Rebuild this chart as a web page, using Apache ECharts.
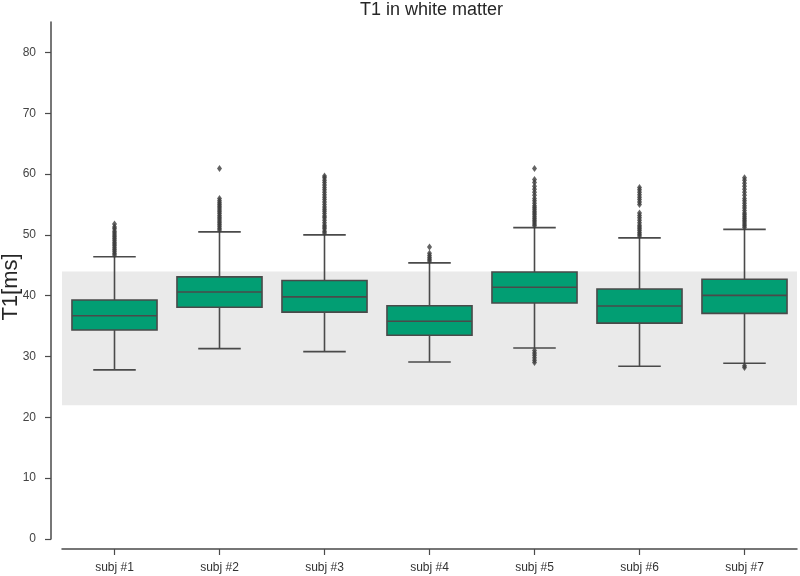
<!DOCTYPE html>
<html>
<head>
<meta charset="utf-8">
<script src="https://cdn.jsdelivr.net/npm/echarts@6/dist/echarts.min.js"></script>
<style>
html,body{margin:0;padding:0;background:#fff;}
#chart{width:800px;height:576px;}
</style>
</head>
<body>
<div id="chart"></div>
<script>
// ---- data ----
var categories = ['subj #1', 'subj #2', 'subj #3', 'subj #4', 'subj #5', 'subj #6', 'subj #7'];
var whiskerLow  = [27.8, 31.3, 30.8, 29.1, 31.4, 28.4, 28.9];
var q1          = [34.35, 38.1, 37.3, 33.5, 38.8, 35.5, 37.1];
var median      = [36.7, 40.6, 39.8, 35.8, 41.4, 38.3, 40.05];
var q3          = [39.3, 43.1, 42.5, 38.35, 43.9, 41.1, 42.7];
var whiskerHigh = [46.4, 50.5, 50.0, 45.4, 51.2, 49.5, 50.9];

var outliers1 = [46.7,47.0,47.3,47.6,47.9,48.2,48.5,48.8,49.1,49.4,49.7,50.0,50.3,50.6,51.0,51.3,51.8];
var outliers2 = [50.8,51.1,51.4,51.7,52.0,52.3,52.6,52.9,53.2,53.5,53.8,54.1,54.4,54.7,55.0,55.3,55.6,56.0,60.9];
var outliers3 = [50.3,50.6,51.0,51.3,51.6,52.0,52.4,52.8,53.1,53.5,53.9,54.2,54.6,55.0,55.4,55.8,56.2,56.6,57.0,57.4,57.8,58.2,58.6,59.0,59.4,59.7];
var outliers4 = [45.7,46.0,46.3,46.6,47.0,48.0];
var outliers5 = [51.5,51.8,52.1,52.4,52.7,53.0,53.3,53.6,53.9,54.2,54.5,54.8,55.2,55.6,56.0,56.5,57.0,57.5,58.0,58.6,59.1,60.9,31.0,30.6,30.2,29.8,29.4,29.0];
var outliers6 = [49.8,50.1,50.4,50.7,51.0,51.3,51.6,52.0,52.4,52.8,53.2,53.6,55.0,55.4,55.8,56.2,56.6,57.0,57.4,57.8];
var outliers7 = [51.2,51.5,51.8,52.1,52.4,52.7,53.0,53.3,53.6,54.0,54.4,54.8,55.2,55.6,56.0,56.5,57.0,57.5,58.0,58.5,59.0,59.4,28.5,28.2];
var outlierSets = [outliers1, outliers2, outliers3, outliers4, outliers5, outliers6, outliers7];

var referenceBand = [22, 44];
var yTicks = [0, 10, 20, 30, 40, 50, 60, 70, 80];
var yAxisTitle = 'T1[ms]';

// ---- build ----
var boxData = categories.map(function (c, i) {
  return [i, whiskerLow[i], q1[i], median[i], q3[i], whiskerHigh[i]];
});
var outlierData = [];
outlierSets.forEach(function (set, i) {
  set.forEach(function (v) { outlierData.push([i, v]); });
});

var edge = '#4a4a4a';
var chart = echarts.init(document.getElementById('chart'), null, {renderer: 'canvas'});
chart.setOption({
  backgroundColor: '#ffffff',
  animation: false,
  title: {
    text: 'T1 in white matter',
    left: 360, top: 1, padding: 0,
    textStyle: {fontSize: 18, fontWeight: 'normal', color: '#262626', fontFamily: 'Liberation Sans, Arial, sans-serif'}
  },
  graphic: [{
    type: 'text',
    x: 11, y: 287,
    rotation: Math.PI / 2,
    style: {
      text: yAxisTitle,
      align: 'center', verticalAlign: 'middle',
      fontSize: 22, fill: '#262626', fontFamily: 'Liberation Sans, Arial, sans-serif'
    }
  }],
  grid: {left: 62, right: 3, top: 22, bottom: 37, containLabel: false, outerBoundsMode: 'none'},
  xAxis: {
    type: 'category',
    data: categories,
    boundaryGap: true,
    offset: 10,
    axisLine: {show: true, onZero: false, lineStyle: {color: edge, width: 1.5}},
    axisTick: {show: true, alignWithLabel: true, length: 6, lineStyle: {color: edge, width: 1.2}},
    axisLabel: {margin: 13, fontSize: 12, color: '#333', fontFamily: 'Liberation Sans, Arial, sans-serif'},
    splitLine: {show: false}
  },
  yAxis: {
    type: 'value',
    min: 0, max: 85, interval: 10,
    offset: 11,
    axisLine: {show: true, onZero: false, lineStyle: {color: edge, width: 1.5}},
    axisTick: {show: true, length: 6, customValues: yTicks, lineStyle: {color: edge, width: 1.2}},
    axisLabel: {customValues: yTicks, margin: 15, fontSize: 12, color: '#444', fontFamily: 'Liberation Sans, Arial, sans-serif'},
    splitLine: {show: false}
  },
  series: [
    {
      type: 'line',
      data: [],
      z: 0,
      silent: true,
      markArea: {
        silent: true,
        itemStyle: {color: '#eaeaea'},
        data: [[{yAxis: referenceBand[0]}, {yAxis: referenceBand[1]}]]
      }
    },
    {
      type: 'custom',
      z: 3,
      data: boxData,
      encode: {x: 0, y: [1, 2, 3, 4, 5]},
      renderItem: function (params, api) {
        var idx = api.value(0);
        var band = api.size([1, 0])[0];
        var bw = band * 0.81;
        var cw = bw / 2;
        var pMin = api.coord([idx, api.value(1)]);
        var pQ1 = api.coord([idx, api.value(2)]);
        var pMed = api.coord([idx, api.value(3)]);
        var pQ3 = api.coord([idx, api.value(4)]);
        var pMax = api.coord([idx, api.value(5)]);
        var cx = pMed[0];
        var ls = {stroke: edge, lineWidth: 1.6};
        return {
          type: 'group',
          children: [
            {type: 'line', shape: {x1: cx, y1: pMin[1], x2: cx, y2: pQ1[1]}, style: ls},
            {type: 'line', shape: {x1: cx, y1: pQ3[1], x2: cx, y2: pMax[1]}, style: ls},
            {type: 'line', shape: {x1: cx - cw / 2, y1: pMin[1], x2: cx + cw / 2, y2: pMin[1]}, style: ls},
            {type: 'line', shape: {x1: cx - cw / 2, y1: pMax[1], x2: cx + cw / 2, y2: pMax[1]}, style: ls},
            {type: 'rect', shape: {x: cx - bw / 2, y: pQ3[1], width: bw, height: pQ1[1] - pQ3[1]},
              style: {fill: '#029e73', stroke: edge, lineWidth: 1.6}},
            {type: 'line', shape: {x1: cx - bw / 2, y1: pMed[1], x2: cx + bw / 2, y2: pMed[1]}, style: ls}
          ]
        };
      }
    },
    {
      type: 'scatter',
      z: 4,
      data: outlierData,
      symbol: 'diamond',
      symbolSize: [5, 7],
      itemStyle: {color: '#3c3c3c'}
    }
  ]
});
</script>
</body>
</html>
